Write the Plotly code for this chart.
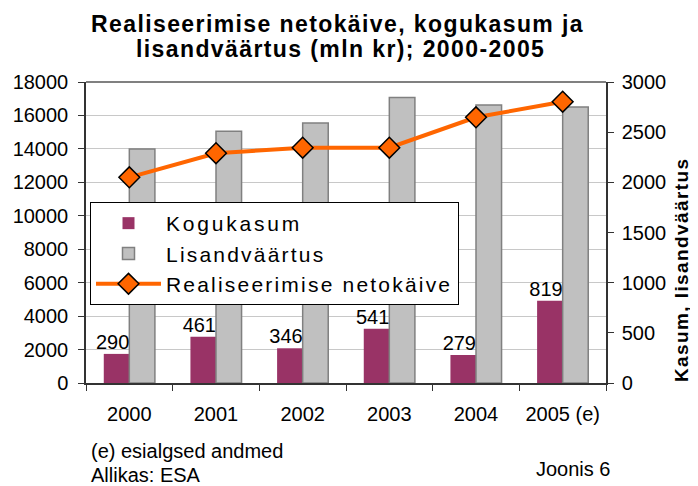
import plotly.graph_objects as go

years = ["2000", "2001", "2002", "2003", "2004", "2005 (e)"]
kogukasum = [290, 461, 346, 541, 279, 819]
lisandvaartus = [2333, 2510, 2592, 2845, 2770, 2750]
netokaive = [12300, 13740, 14070, 14070, 15890, 16820]

FONT = "Liberation Sans, Arial, sans-serif"
OFF = 8  # page body margin offset
W, H = 698 - OFF, 486 - OFF
L, R, T, B = 86 - OFF, 92, 82 - OFF, 103
PW, PH = W - L - R, H - T - B

def px(x):
    return (x - OFF - L) / PW

def py(y):
    return (H - B - (y - OFF)) / PH

def spaced(s, sp):
    return f"<span style='letter-spacing:{sp}px'>{s}</span>"

fig = go.Figure()
fig.add_trace(go.Bar(
    x=years, y=kogukasum, name=spaced("Kogukasum", 2.8), yaxis="y",
    marker=dict(color="#993366", line=dict(width=0)),
))
fig.add_trace(go.Bar(
    x=years, y=lisandvaartus, name=spaced("Lisandväärtus", 2.2), yaxis="y",
    marker=dict(color="#C0C0C0", line=dict(color="#808080", width=1.5)),
))
# value labels for Kogukasum
fig.add_trace(go.Scatter(
    x=years, y=kogukasum, yaxis="y", mode="text",
    text=[str(v) for v in kogukasum], textposition="top left",
    textfont=dict(size=20, color="black", family=FONT),
    marker=dict(size=10), showlegend=False, hoverinfo="skip",
    cliponaxis=False,
))
fig.add_trace(go.Scatter(
    x=years, y=netokaive, name=spaced("Realiseerimise netokäive", 2.2), yaxis="y2",
    mode="lines+markers",
    line=dict(color="#FF6600", width=4),
    marker=dict(symbol="diamond", size=16, color="#FF6600",
                line=dict(color="black", width=1.5)),
    cliponaxis=False,
))

fig.update_layout(
    width=W, height=H, autosize=False,
    margin=dict(l=L, r=R, t=T, b=B, pad=0, autoexpand=False),
    paper_bgcolor="white", plot_bgcolor="white",
    font=dict(family=FONT, size=20, color="black"),
    barmode="group", bargap=0.41, bargroupgap=0,
    showlegend=True,
    legend=dict(
        x=px(90), y=py(202), xanchor="left", yanchor="top",
        bgcolor="white", bordercolor="black", borderwidth=1,
        font=dict(size=21, family=FONT, color="black"),
        traceorder="normal", itemwidth=65,
    ),
    xaxis=dict(
        type="category", categoryorder="array", categoryarray=years,
        showline=True, linecolor="#333333", linewidth=1.5,
        ticks="outside", tickson="boundaries", ticklen=6, tickcolor="#333333",
        tickfont=dict(size=20), ticklabelstandoff=12,
        showgrid=False, automargin=False,
    ),
    yaxis=dict(
        side="right", range=[0, 3000], dtick=500, tickformat="d",
        showline=True, linecolor="#333333", linewidth=1.5,
        ticks="outside", ticklen=6, tickcolor="#333333",
        tickfont=dict(size=20), showgrid=False, zeroline=False,
        ticklabelstandoff=4, automargin=False,
    ),
    yaxis2=dict(
        overlaying="y", side="left", range=[0, 18000], dtick=2000, tickformat="d",
        showline=True, linecolor="#333333", linewidth=1.5,
        ticks="outside", ticklen=6, tickcolor="#333333",
        tickfont=dict(size=20), showgrid=True, gridcolor="#C8C8C8",
        gridwidth=1, zeroline=False, ticklabelstandoff=6, automargin=False,
    ),
    shapes=[dict(type="line", xref="paper", yref="paper", x0=0, x1=1, y0=1, y1=1,
                 line=dict(color="#808080", width=2))],
)

title_font = dict(family=FONT, size=23, color="black")
ann = [
    dict(text="<b>" + spaced("Realiseerimise netokäive, kogukasum ja", 1.4) + "</b>",
         x=px(337), y=py(24), xref="paper", yref="paper",
         xanchor="center", yanchor="middle", showarrow=False, font=title_font),
    dict(text="<b>" + spaced("lisandväärtus (mln kr); 2000-2005", 1.4) + "</b>",
         x=px(340), y=py(49), xref="paper", yref="paper",
         xanchor="center", yanchor="middle", showarrow=False, font=title_font),
    dict(text="<b>" + spaced("Kasum, lisandväärtus", 1.4) + "</b>", textangle=-90,
         x=px(681), y=py(270), xref="paper", yref="paper",
         xanchor="center", yanchor="middle", showarrow=False,
         font=dict(family=FONT, size=19, color="black")),
    dict(text="(e) esialgsed andmed", x=px(89), y=py(451), xref="paper", yref="paper",
         xanchor="left", yanchor="middle", showarrow=False, font=dict(size=20)),
    dict(text="Allikas: ESA", x=px(89), y=py(475), xref="paper", yref="paper",
         xanchor="left", yanchor="middle", showarrow=False, font=dict(size=20)),
    dict(text="Joonis 6", x=px(613), y=py(469), xref="paper", yref="paper",
         xanchor="right", yanchor="middle", showarrow=False, font=dict(size=20)),
]
fig.update_layout(annotations=ann)

fig.write_html("out.html")
